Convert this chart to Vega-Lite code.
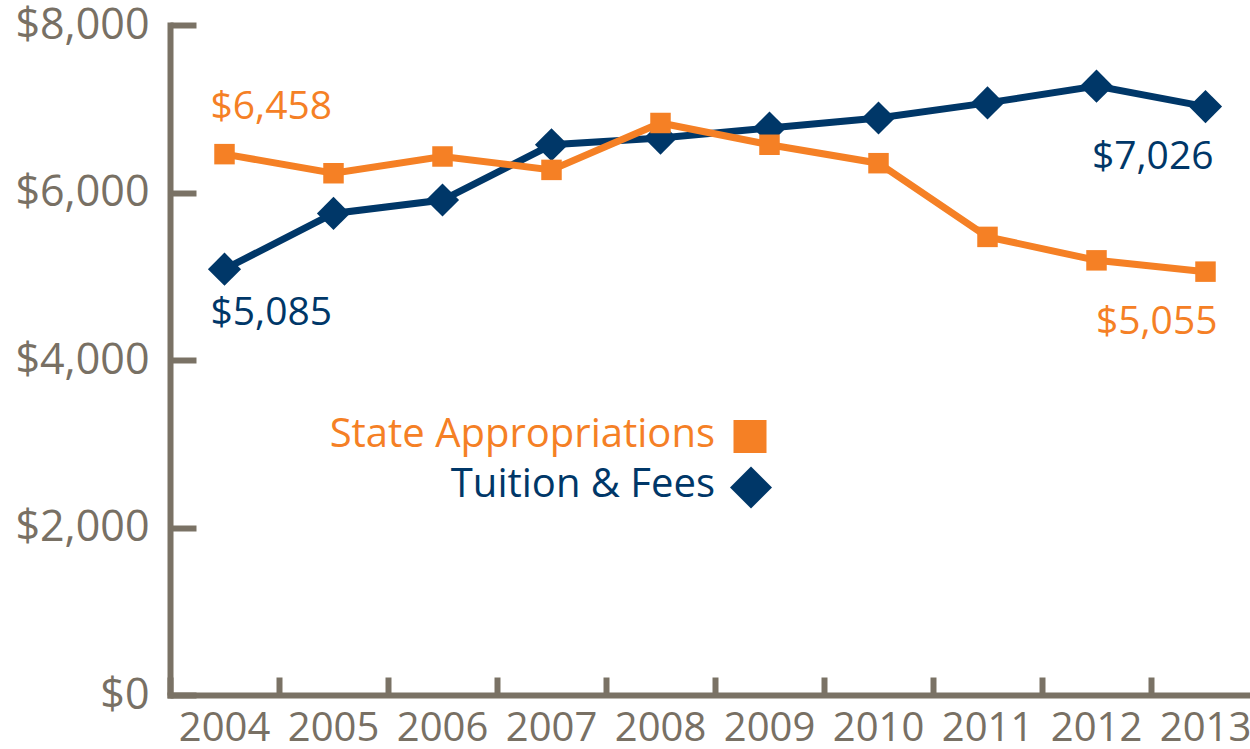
{
  "$schema": "https://vega.github.io/schema/vega-lite/v6.json",
  "width": 1090,
  "height": 670,
  "autosize": "none",
  "padding": {"left": 170, "top": 25, "right": 0, "bottom": 54},
  "background": "white",
  "config": {"view": {"stroke": null}, "font": "Open Sans"},
  "datasets": {
    "series": [
      {"year": "2004", "series": "State Appropriations", "value": 6458},
      {"year": "2005", "series": "State Appropriations", "value": 6230},
      {"year": "2006", "series": "State Appropriations", "value": 6430},
      {"year": "2007", "series": "State Appropriations", "value": 6270},
      {"year": "2008", "series": "State Appropriations", "value": 6830},
      {"year": "2009", "series": "State Appropriations", "value": 6570},
      {"year": "2010", "series": "State Appropriations", "value": 6350},
      {"year": "2011", "series": "State Appropriations", "value": 5470},
      {"year": "2012", "series": "State Appropriations", "value": 5190},
      {"year": "2013", "series": "State Appropriations", "value": 5055},
      {"year": "2004", "series": "Tuition & Fees", "value": 5085},
      {"year": "2005", "series": "Tuition & Fees", "value": 5750},
      {"year": "2006", "series": "Tuition & Fees", "value": 5910},
      {"year": "2007", "series": "Tuition & Fees", "value": 6570},
      {"year": "2008", "series": "Tuition & Fees", "value": 6650},
      {"year": "2009", "series": "Tuition & Fees", "value": 6770},
      {"year": "2010", "series": "Tuition & Fees", "value": 6890},
      {"year": "2011", "series": "Tuition & Fees", "value": 7070},
      {"year": "2012", "series": "Tuition & Fees", "value": 7270},
      {"year": "2013", "series": "Tuition & Fees", "value": 7026}
    ],
    "legend": [
      {"year": "2009", "series": "State Appropriations", "value": 3087},
      {"year": "2009", "series": "Tuition & Fees", "value": 2478}
    ]
  },
  "data": {"name": "series"},
  "encoding": {
    "x": {
      "field": "year",
      "type": "ordinal",
      "bandPosition": 0.5,
      "scale": {"type": "band", "paddingInner": 0, "paddingOuter": 0},
      "axis": {
        "title": null,
        "bandPosition": 0,
        "domainColor": "#7a7265",
        "domainWidth": 6,
        "domainCap": "square",
        "tickColor": "#7a7265",
        "tickWidth": 6,
        "tickSize": -18,
        "labelPadding": 31,
        "labelFontSize": 40,
        "labelColor": "#787064",
        "labelFont": "Open Sans",
        "labelAngle": 0
      }
    },
    "y": {
      "field": "value",
      "type": "quantitative",
      "scale": {"domain": [0, 8000]},
      "axis": {
        "title": null,
        "values": [0, 2000, 4000, 6000, 8000],
        "format": "$,.0f",
        "grid": false,
        "domainColor": "#7a7265",
        "domainWidth": 6,
        "domainCap": "square",
        "tickColor": "#7a7265",
        "tickWidth": 6,
        "tickSize": -26,
        "labelPadding": 47,
        "labelFontSize": 43,
        "labelColor": "#787064",
        "labelFont": "Open Sans"
      }
    }
  },
  "layer": [
    {
      "transform": [{"filter": "datum.series === 'Tuition & Fees'"}],
      "mark": {"type": "line", "color": "#003768", "strokeWidth": 7}
    },
    {
      "transform": [{"filter": "datum.series === 'State Appropriations'"}],
      "mark": {"type": "line", "color": "#f58025", "strokeWidth": 7}
    },
    {
      "transform": [{"filter": "datum.series === 'Tuition & Fees'"}],
      "mark": {"type": "point", "shape": "diamond", "filled": true, "color": "#003768", "size": 1100, "opacity": 1}
    },
    {
      "transform": [{"filter": "datum.series === 'State Appropriations'"}],
      "mark": {"type": "point", "shape": "square", "filled": true, "color": "#f58025", "size": 420, "opacity": 1}
    },
    {
      "transform": [{"filter": "datum.series === 'State Appropriations' && datum.year === '2004'"}],
      "mark": {"type": "text", "align": "left", "baseline": "alphabetic", "dx": -14, "dy": -35, "fontSize": 39, "color": "#f58025", "font": "Open Sans"},
      "encoding": {"text": {"field": "value", "format": "$,.0f"}}
    },
    {
      "transform": [{"filter": "datum.series === 'Tuition & Fees' && datum.year === '2004'"}],
      "mark": {"type": "text", "align": "left", "baseline": "alphabetic", "dx": -14, "dy": 56, "fontSize": 39, "color": "#003768", "font": "Open Sans"},
      "encoding": {"text": {"field": "value", "format": "$,.0f"}}
    },
    {
      "transform": [{"filter": "datum.series === 'Tuition & Fees' && datum.year === '2013'"}],
      "mark": {"type": "text", "align": "right", "baseline": "alphabetic", "dx": 8, "dy": 62, "fontSize": 39, "color": "#003768", "font": "Open Sans"},
      "encoding": {"text": {"field": "value", "format": "$,.0f"}}
    },
    {
      "transform": [{"filter": "datum.series === 'State Appropriations' && datum.year === '2013'"}],
      "mark": {"type": "text", "align": "right", "baseline": "alphabetic", "dx": 12, "dy": 62, "fontSize": 39, "color": "#f58025", "font": "Open Sans"},
      "encoding": {"text": {"field": "value", "format": "$,.0f"}}
    },
    {
      "data": {"name": "legend"},
      "transform": [{"filter": "datum.series === 'State Appropriations'"}],
      "mark": {"type": "point", "shape": "square", "filled": true, "color": "#f58025", "size": 1089, "opacity": 1, "xOffset": -19.5}
    },
    {
      "data": {"name": "legend"},
      "transform": [{"filter": "datum.series === 'Tuition & Fees'"}],
      "mark": {"type": "point", "shape": "diamond", "filled": true, "color": "#003768", "size": 1764, "opacity": 1, "xOffset": -18.5}
    },
    {
      "data": {"name": "legend"},
      "transform": [{"filter": "datum.series === 'State Appropriations'"}],
      "mark": {"type": "text", "align": "right", "baseline": "alphabetic", "dx": -54.5, "dy": 10.5, "fontSize": 40, "color": "#f58025", "font": "Open Sans"},
      "encoding": {"text": {"field": "series"}}
    },
    {
      "data": {"name": "legend"},
      "transform": [{"filter": "datum.series === 'Tuition & Fees'"}],
      "mark": {"type": "text", "align": "right", "baseline": "alphabetic", "dx": -54.5, "dy": 9.5, "fontSize": 40, "color": "#003768", "font": "Open Sans"},
      "encoding": {"text": {"field": "series"}}
    }
  ]
}
